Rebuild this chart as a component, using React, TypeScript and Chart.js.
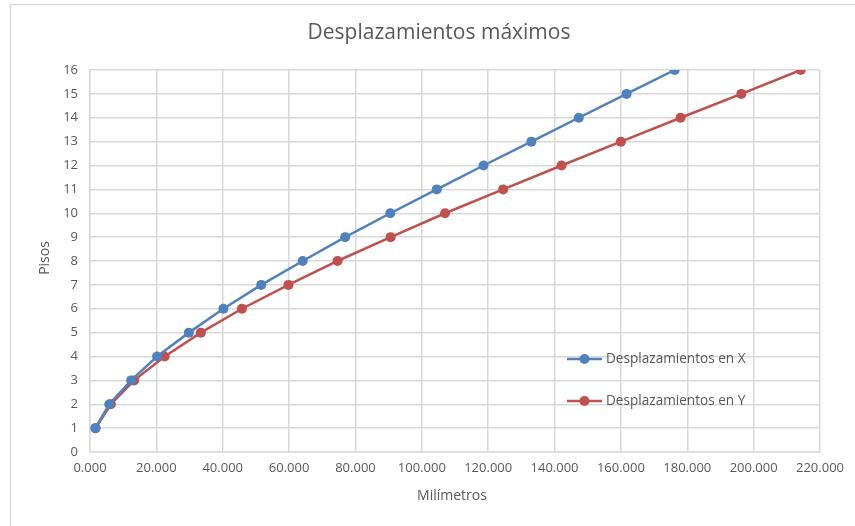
import React, { useEffect, useRef } from "react";
import { Chart, registerables } from "chart.js";

Chart.register(...registerables);

const floors = [1, 2, 3, 4, 5, 6, 7, 8, 9, 10, 11, 12, 13, 14, 15, 16];
const dispX = [1.6, 5.8, 12.4, 20.2, 29.8, 40.2, 51.6, 64.1, 76.9, 90.5, 104.5, 118.6, 133.0, 147.3, 161.7, 176.2];
const dispY = [1.7, 6.3, 13.3, 22.5, 33.4, 45.8, 59.8, 74.6, 90.6, 107.0, 124.5, 142.1, 160.0, 178.0, 196.3, 214.2];
const seriesNames = ["Desplazamientos en X", "Desplazamientos en Y"];
const seriesColors = ["#4f81bd", "#c0504d"];
const titleText = "Desplazamientos máximos";
const xTitle = "Milímetros";
const yTitle = "Pisos";

const FONT = "'Open Sans', 'Noto Sans', sans-serif";
const TEXT = "#595959";
const GRID = "#d9d9d9";

export default function App() {
  const ref = useRef<HTMLCanvasElement>(null);

  useEffect(() => {
    const canvas = ref.current!;
    const decor = {
      id: "decor",
      beforeDraw(chart: any) {
        const ctx = chart.ctx;
        ctx.save();
        ctx.fillStyle = "#ffffff";
        ctx.fillRect(0, 0, chart.width, chart.height);
        ctx.strokeStyle = GRID;
        ctx.lineWidth = 1.5;
        ctx.beginPath();
        ctx.moveTo(10.5, chart.height);
        ctx.lineTo(10.5, 4.5);
        ctx.lineTo(chart.width, 4.5);
        ctx.stroke();
        ctx.restore();
      },
      afterDraw(chart: any) {
        const ctx = chart.ctx;
        const ca = chart.chartArea;
        ctx.save();
        ctx.fillStyle = TEXT;
        ctx.textAlign = "center";
        ctx.textBaseline = "middle";
        ctx.font = `21px ${FONT}`;
        ctx.fillText(titleText, 439, 33);
        ctx.font = `14px ${FONT}`;
        ctx.fillText(xTitle, 452, 496);
        ctx.save();
        ctx.translate(45, 258);
        ctx.rotate(-Math.PI / 2);
        ctx.fillText(yTitle, 0, 0);
        ctx.restore();
        // legend
        const items = [
          { y: ca.top + (358 - 69) },
          { y: ca.top + (400 - 69) },
        ];
        items.forEach((it, i) => {
          const x0 = 567;
          ctx.strokeStyle = seriesColors[i];
          ctx.lineWidth = 2.5;
          ctx.beginPath();
          ctx.moveTo(x0, it.y);
          ctx.lineTo(x0 + 35, it.y);
          ctx.stroke();
          ctx.fillStyle = seriesColors[i];
          ctx.beginPath();
          ctx.arc(x0 + 17.5, it.y, 5, 0, Math.PI * 2);
          ctx.fill();
          ctx.fillStyle = TEXT;
          ctx.textAlign = "left";
          ctx.font = `13.6px ${FONT}`;
          ctx.fillText(seriesNames[i], x0 + 39, it.y);
        });
        ctx.restore();
      },
    };

    const chart = new Chart(canvas, {
      type: "line",
      data: {
        datasets: [dispX, dispY].map((arr, i) => ({
          label: seriesNames[i],
          data: arr.map((v, j) => ({ x: v, y: floors[j] })),
          borderColor: seriesColors[i],
          backgroundColor: seriesColors[i],
          borderWidth: 2.5,
          pointRadius: 5,
          pointHoverRadius: 5,
          pointBorderWidth: 0,
          tension: 0,
        })),
      },
      options: {
        animation: false,
        responsive: false,
        layout: { padding: { top: 70, right: 35, left: 0, bottom: 0 } },
        plugins: {
          legend: { display: false },
          title: { display: false },
          tooltip: { enabled: false },
        },
        scales: {
          x: {
            type: "linear",
            min: 0,
            max: 220,
            afterFit: (s: any) => {
              s.height = 74;
            },
            ticks: {
              stepSize: 20,
              color: TEXT,
              font: { family: FONT, size: 13 },
              padding: 8,
              maxRotation: 0,
              callback: (v: any) => Number(v).toFixed(3),
            },
            grid: { color: GRID, lineWidth: 1.5, drawTicks: false },
            border: { color: GRID, width: 1.5 },
          },
          y: {
            type: "linear",
            min: 0,
            max: 16,
            afterFit: (s: any) => {
              s.width = 90;
            },
            ticks: {
              stepSize: 1,
              color: TEXT,
              font: { family: FONT, size: 13 },
              padding: 12,
            },
            grid: { color: GRID, lineWidth: 1.5, drawTicks: false },
            border: { color: GRID, width: 1.5 },
          },
        },
      },
      plugins: [decor],
    });
    return () => chart.destroy();
  }, []);

  return (
    <div style={{ position: "fixed", left: 0, top: 0, width: 855, height: 526 }}>
      <canvas ref={ref} width={855} height={526} style={{ width: 855, height: 526, display: "block" }} />
    </div>
  );
}
